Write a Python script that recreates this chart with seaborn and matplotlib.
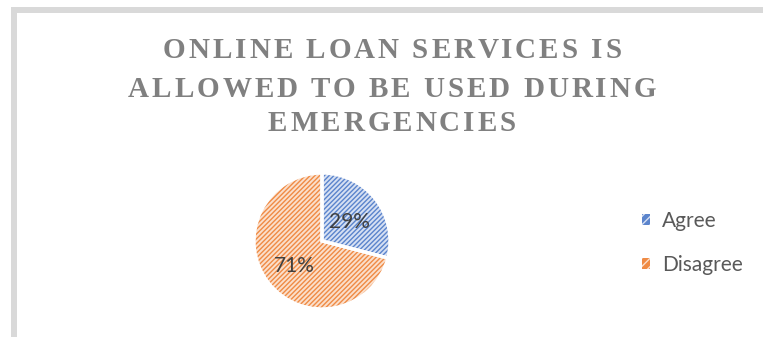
import matplotlib
matplotlib.use("Agg")
import matplotlib.pyplot as plt
import seaborn as sns
from matplotlib.patches import Rectangle

categories = ["Agree", "Disagree"]
values = [29, 71]
pct_labels = ["29%", "71%"]
title_lines = ["ONLINE LOAN SERVICES IS", "ALLOWED TO BE USED DURING", "EMERGENCIES"]

sns.set_theme(style="white")
plt.rcParams['font.family'] = ['Lato', 'DejaVu Sans']

main_colors = ["#5b84cc", "#ef8b45"]
fill_colors = ["#d6e0f3", "#fbdfcb"]

W, H = 763, 337
fig = plt.figure(figsize=(W / 100, H / 100), dpi=100)
fig.patch.set_facecolor("white")

# frame border (light grey band)
fig.patches.append(Rectangle((11 / W, 0), 6 / W, (H - 7) / H, transform=fig.transFigure,
                             facecolor="#d9d9d9", edgecolor="none"))
fig.patches.append(Rectangle((11 / W, (H - 13) / H), (W - 11) / W, 6 / H, transform=fig.transFigure,
                             facecolor="#d9d9d9", edgecolor="none"))

# pie axes
cx, cy, r, half = 322, 241, 68, 80
ax = fig.add_axes([(cx - half) / W, (H - cy - half) / H, 2 * half / W, 2 * half / H])
wedges, _ = ax.pie(values, startangle=90, counterclock=False, radius=1,
                   colors=fill_colors, wedgeprops=dict(linewidth=0))
for w, mc in zip(wedges, main_colors):
    w.set_edgecolor(mc)
    w.set_hatch("///////")
    w.set_linewidth(0)
ax.pie(values, startangle=90, counterclock=False, radius=1,
       colors=["none", "none"],
       wedgeprops=dict(linewidth=2.4, edgecolor="white", fill=False))
lim = half / r
ax.set_xlim(-lim, lim)
ax.set_ylim(-lim, lim)
ax.set_aspect("equal")
ax.axis("off")

# percentage labels
ax.text((349 - cx) / r, -(222 - cy) / r, pct_labels[0], ha="center", va="center",
        fontsize=15, color="#404040")
ax.text((294 - cx) / r, -(266 - cy) / r, pct_labels[1], ha="center", va="center",
        fontsize=15, color="#404040")

# title with letter spacing (each character drawn as text)
renderer = fig.canvas.get_renderer()
tfont = dict(fontsize=21, family=["Liberation Serif", "DejaVu Serif"], color="#808080",
             fontweight="bold")
spacing = 3.0
baselines = [58, 97, 131]
center_x = 392


def prefix_width(s):
    if not s:
        return 0.0
    t = fig.text(0, 0, s + "|", **tfont)
    w1 = t.get_window_extent(renderer).width
    t.remove()
    t = fig.text(0, 0, "|", **tfont)
    w2 = t.get_window_extent(renderer).width
    t.remove()
    return w1 - w2


for ln, b in zip(title_lines, baselines):
    total = prefix_width(ln) + spacing * (len(ln) - 1)
    x0 = center_x - total / 2
    for i, ch in enumerate(ln):
        if ch == " ":
            continue
        x = x0 + prefix_width(ln[:i]) + spacing * i
        fig.text(x / W, 1 - b / H, ch, ha="left", va="baseline", **tfont)

# legend
handles = [Rectangle((0, 0), 1, 1, facecolor=mc, edgecolor=fc, hatch="////", linewidth=0)
           for fc, mc in zip(fill_colors, main_colors)]
leg = fig.legend(handles, categories, loc="center left", bbox_to_anchor=(642 / W, 1 - 243 / H),
                 frameon=False, fontsize=15, handlelength=0.4, handleheight=0.4,
                 handletextpad=0.55, labelspacing=1.15, labelcolor="#595959",
                 borderpad=0, borderaxespad=0)

fig.savefig("out.png", dpi=100)
